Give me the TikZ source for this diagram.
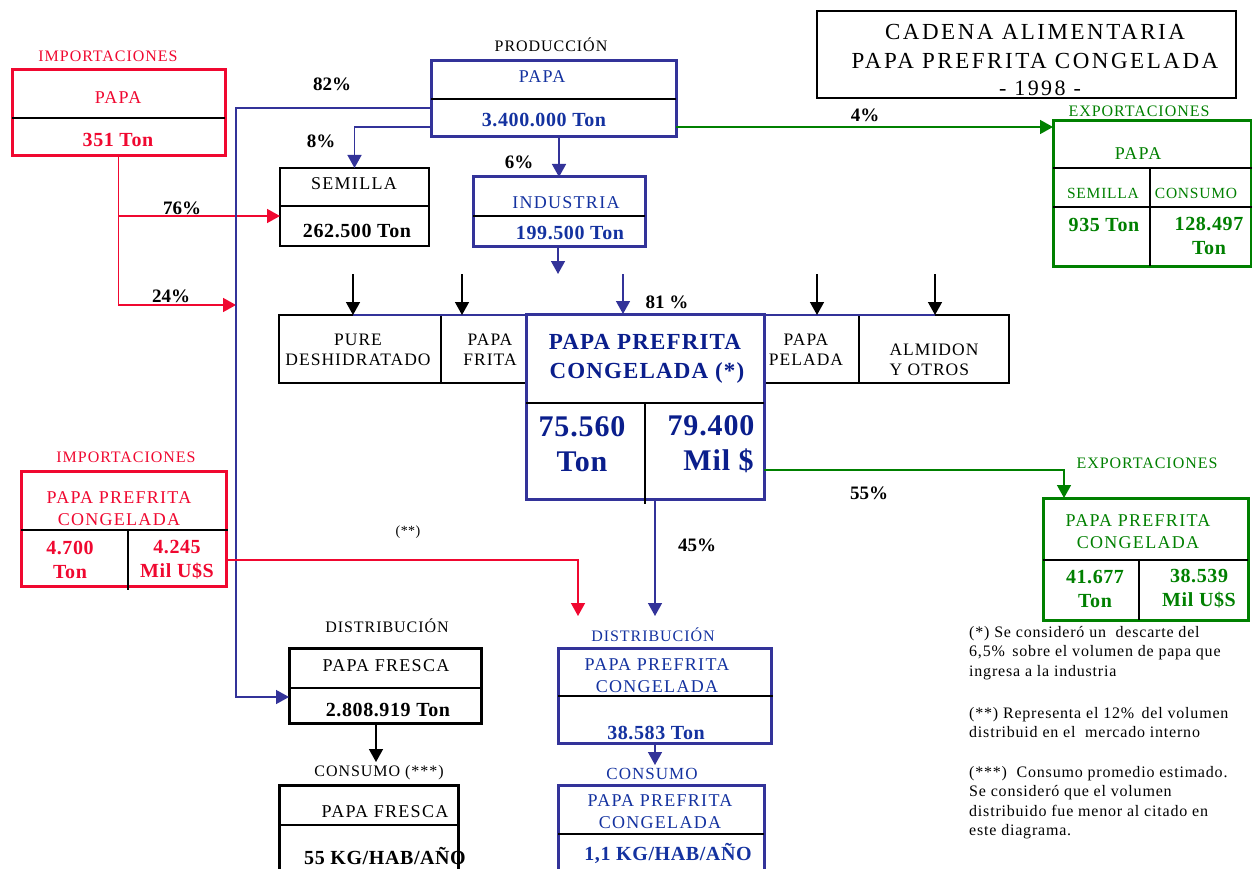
\documentclass[tikz,border=0pt]{standalone}
\usepackage{fontspec}
\setmainfont{Liberation Serif}
\usetikzlibrary{arrows.meta}
\definecolor{cred}{RGB}{240,8,48}
\definecolor{cblue}{RGB}{51,51,153}
\definecolor{ctxt}{RGB}{20,50,160}
\definecolor{cnavy}{RGB}{10,30,140}
\definecolor{cgreen}{RGB}{0,128,0}
\newcommand{\fs}[2]{\fontsize{#1}{#2}\selectfont}
\tikzset{
 box/.style={draw, inner sep=0pt, outer sep=0pt, anchor=north west, fill=white},
 thickbox/.style={box, line width=3pt},
 thinbox/.style={box, line width=1.6pt},
 div/.style={line width=1.5pt, black},
 lbl/.style={font=\fs{16}{22}\addfontfeature{LetterSpace=6}, align=center, inner sep=0pt},
 inl/.style={font=\fs{18}{22}\addfontfeature{LetterSpace=7}, align=center, inner sep=0pt},
 row/.style={font=\fs{17.5}{20}\addfontfeature{LetterSpace=6}, align=center, inner sep=0pt},
 num/.style={font=\fs{20}{24}\bfseries\addfontfeature{LetterSpace=3}, align=center, inner sep=0pt},
 big/.style={font=\fs{30}{35}\bfseries\addfontfeature{LetterSpace=3}, align=center, inner sep=0pt, text=cnavy},
 pct/.style={font=\fs{19}{20}\bfseries, inner sep=0pt},
 note/.style={font=\fs{16}{19.5}\addfontfeature{LetterSpace=5}, align=left, inner sep=0pt, anchor=north west},
 conn/.style={line width=1.5pt},
 arr/.style={conn, -{Triangle[width=14pt,length=13pt]}},
}
\begin{document}
\begin{tikzpicture}[x=1pt,y=-1pt]
\useasboundingbox (0,0) rectangle (1252,869);
\clip (0,0) rectangle (1252,869);

% ---------- title
\node[thinbox, minimum width=419pt, minimum height=87pt] (title) at (817,11) {};
\node[font=\fs{23}{29}\addfontfeature{LetterSpace=11}, align=center, inner sep=0pt] (t1) at (1035,47) {CADENA ALIMENTARIA\\PAPA PREFRITA CONGELADA};
\node[font=\fs{22}{29}\addfontfeature{LetterSpace=11}, inner sep=0pt] (t2) at (1040,88) {- 1998 -};

% ---------- importaciones papa
\node[thickbox, draw=cred, minimum width=213pt, minimum height=86pt] (impA) at (12,70) {};
\draw[div] (12,118) -- (225,118);
\node[lbl, text=cred] (impAl) at (108,56) {IMPORTACIONES};
\node[inl, text=cred] (impA1) at (118,98) {PAPA};
\node[num, text=cred] (impA2) at (118,140) {351 Ton};

% ---------- produccion
\node[thickbox, draw=cblue, minimum width=245pt, minimum height=76pt] (prod) at (431,61) {};
\draw[div] (431,99) -- (676,99);
\node[lbl] (prodl) at (551,45) {PRODUCCIÓN};
\node[inl, text=ctxt] (prod1) at (542,77) {PAPA};
\node[num, text=ctxt] (prod2) at (544,120) {3.400.000 Ton};

% ---------- semilla
\node[thinbox, minimum width=149pt, minimum height=78pt] (sem) at (280,168) {};
\draw[div] (280,206) -- (429,206);
\node[inl] (sem1) at (354,184) {SEMILLA};
\node[num] (sem2) at (357,231) {262.500 Ton};

% ---------- industria
\node[thickbox, draw=cblue, minimum width=172pt, minimum height=69pt] (ind) at (473,177) {};
\draw[div] (473,216) -- (645,216);
\node[inl, text=ctxt] (ind1) at (566,203) {INDUSTRIA};
\node[num, text=ctxt] (ind2) at (570,233) {199.500 Ton};

% ---------- exportaciones papa
\node[thickbox, draw=cgreen, minimum width=198pt, minimum height=145pt] (exp1) at (1053,121) {};
\draw[div] (1053,168) -- (1252,168);
\draw[div] (1053,207) -- (1252,207);
\draw[div] (1150,168) -- (1150,266);
\node[lbl, text=cgreen] (exp1l) at (1139,111) {EXPORTACIONES};
\node[inl, text=cgreen] (exp11) at (1138,154) {PAPA};
\node[lbl, text=cgreen, font=\fs{15.5}{20}\addfontfeature{LetterSpace=5}] (exp12) at (1103,193) {SEMILLA};
\node[lbl, text=cgreen, font=\fs{15.5}{20}\addfontfeature{LetterSpace=5}] (exp13) at (1196,193) {CONSUMO};
\node[num, text=cgreen] (exp14) at (1104,225) {935 Ton};
\node[num, text=cgreen] (exp15) at (1209,236) {128.497\\Ton};

% ---------- industry products row
\node[thinbox, minimum width=162pt, minimum height=68pt] (pure) at (279,315) {};
\node[thinbox, minimum width=86pt, minimum height=68pt] (frita) at (441,315) {};
\node[thinbox, minimum width=95pt, minimum height=68pt] (pelada) at (764,315) {};
\node[thinbox, minimum width=150pt, minimum height=68pt] (almidon) at (859,315) {};
\node[row] (pure1) at (358,350) {PURE\\DESHIDRATADO};
\node[row] (frita1) at (490,350) {PAPA\\FRITA};
\node[row] (pelada1) at (806,350) {PAPA\\PELADA};
\node[row, align=left] (almidon1) at (934,360) {ALMIDON\\Y OTROS};

% ---------- main box
\node[thickbox, draw=cblue, minimum width=238pt, minimum height=185pt] (main) at (526,314) {};
\draw[div] (526,403) -- (764,403);
\draw[div] (645,403) -- (645,504);
\node[font=\fs{23}{29}\bfseries\addfontfeature{LetterSpace=5}, align=center, inner sep=0pt, text=cnavy] (main1) at (645,359) {PAPA PREFRITA\\\,CONGELADA (*)};
\node[big] (main2) at (582,444) {75.560\\Ton};
\node[big] (main3) at (711,444) {79.400\\\hphantom{0}Mil \$};

% ---------- exportaciones prefrita
\node[thickbox, draw=cgreen, minimum width=205pt, minimum height=122pt] (exp2) at (1043,498) {};
\draw[div] (1043,560) -- (1248,560);
\draw[div] (1139,560) -- (1139,620);
\node[lbl, text=cgreen] (exp2l) at (1147,463) {EXPORTACIONES};
\node[inl, text=cgreen] (exp21) at (1138,532) {PAPA PREFRITA\\CONGELADA};
\node[num, text=cgreen] (exp22) at (1095,589) {41.677\\Ton};
\node[num, text=cgreen] (exp23) at (1199,589) {38.539\\Mil U\$S};

% ---------- importaciones prefrita
\node[thickbox, draw=cred, minimum width=205pt, minimum height=115pt] (impB) at (21,471) {};
\draw[div] (21,530) -- (228,530);
\draw[div] (128,530) -- (128,590);
\node[lbl, text=cred] (impBl) at (126,457) {IMPORTACIONES};
\node[inl, text=cred] (impB1) at (119,509) {PAPA PREFRITA\\CONGELADA};
\node[num, text=cred] (impB2) at (70,560) {4.700\\Ton};
\node[num, text=cred] (impB3) at (177,560) {4.245\\Mil U\$S};

% ---------- distribucion papa fresca
\node[thickbox, minimum width=192pt, minimum height=75pt] (dfres) at (289,648) {};
\draw[div] (289,688) -- (483,688);
\node[lbl] (dfresl) at (387,626) {DISTRIBUCIÓN};
\node[inl] (dfres1) at (386,666) {PAPA FRESCA};
\node[num] (dfres2) at (388,710) {2.808.919 Ton};

% ---------- consumo papa fresca
\node[thickbox, minimum width=179pt, minimum height=110pt] (cfres) at (279,785) {};
\draw[div] (279,825) -- (458,825);
\node[lbl] (cfresl) at (379,773) {CONSUMO (***)};
\node[inl] (cfres1) at (385,812) {PAPA FRESCA};
\node[num] (cfres2) at (385,856) {55 KG/HAB/AÑO};

% ---------- distribucion prefrita
\node[thickbox, draw=cblue, minimum width=213pt, minimum height=95pt] (dpre) at (558,648) {};
\draw[div] (558,696) -- (773,696);
\node[lbl, text=ctxt] (dprel) at (653,635) {DISTRIBUCIÓN};
\node[inl, text=ctxt] (dpre1) at (657,676) {PAPA PREFRITA\\CONGELADA};
\node[num, text=ctxt] (dpre2) at (656,733) {38.583 Ton};

% ---------- consumo prefrita
\node[thickbox, draw=cblue, minimum width=206pt, minimum height=110pt] (cpre) at (558,785) {};
\draw[div] (558,834) -- (764,834);
\node[lbl, text=ctxt, font=\fs{17}{22}\addfontfeature{LetterSpace=6}] (cprel) at (652,774) {CONSUMO};
\node[inl, text=ctxt] (cpre1) at (660,812) {PAPA PREFRITA\\CONGELADA};
\node[num, text=ctxt] (cpre2) at (668,853) {1,1 KG/HAB/AÑO};

% ---------- notes
\node[note] (n1) at (969,626) {(*) Se consideró un \ descarte del\\6,5\% \,sobre el volumen de papa que\\ingresa a la industria};
\node[note] (n2) at (969,707) {(**) Representa el 12\% \,del volumen\\distribuid en el \ mercado interno};
\node[note] (n3) at (969,766) {(***) \ Consumo promedio estimado.\\Se consideró que el volumen\\distribuido fue menor al citado en\\este diagrama.};

% ---------- connectors
\coordinate (c82) at (236,697);
\coordinate (c24) at (236,305);
\coordinate (tipred) at (578,616);
\coordinate (tip45) at (655,616);
\coordinate (tipcp) at (655,765);
\coordinate (tipcf) at (376,762);
\coordinate (tipind) at (558,274);

\draw[conn, cred] (impA.south) -- (impA.south |- c24);
\draw[arr, cred] (impA.south |- 0,216) -- (sem.west |- 0,216);
\draw[arr, cred] (impA.south) |- (c24);

\draw[arr, cblue] (prod.west |- 0,108) -| (c82) -- (dfres.west |- c82);
\draw[arr, cblue] (prod.west |- 0,127) -| (sem.north);
\draw[arr, cblue] (ind.north |- prod.south) -- (ind.north);
\draw[arr, cblue] (ind.south -| tipind) -- (tipind);
\draw[conn, cblue] (pure.north -| 353,274) -- (almidon.north -| 935,274);
\draw[arr, black] (353,274) -- (pure.north -| 353,0);
\draw[arr, black] (462,274) -- (frita.north -| 462,0);
\draw[arr, black] (817,274) -- (pelada.north -| 817,0);
\draw[arr, black] (935,274) -- (almidon.north -| 935,0);
\draw[arr, cblue] (623,274) -- (main.north -| 623,0);

\draw[arr, cgreen] (prod.east |- 0,127) -- (exp1.west |- 0,127);
\draw[arr, cgreen] (main.east |- 0,470) -| (exp2.north -| 1064,0);

\draw[arr, cred] (impB.east |- 0,560) -| (tipred);
\draw[arr, cblue] (main.south -| tip45) -- (tip45);
\draw[arr, cblue] (dpre.south -| tipcp) -- (tipcp);
\draw[arr, black] (dfres.south -| tipcf) -- (tipcf);

% ---------- percentages
\node[pct] (p82) at (332,84) {82\%};
\node[pct] (p8) at (321,141) {8\%};
\node[pct] (p6) at (519,162) {6\%};
\node[pct] (p76) at (182,208) {76\%};
\node[pct] (p24) at (171,296) {24\%};
\node[pct] (p81) at (667,302) {81 \%};
\node[pct] (p4) at (865,115) {4\%};
\node[pct] (p55) at (869,493) {55\%};
\node[pct] (p45) at (697,545) {45\%};
\node[font=\fs{14}{16}\addfontfeature{LetterSpace=3}, inner sep=0pt] (pss) at (408,532) {(**)};
\end{tikzpicture}
\end{document}
